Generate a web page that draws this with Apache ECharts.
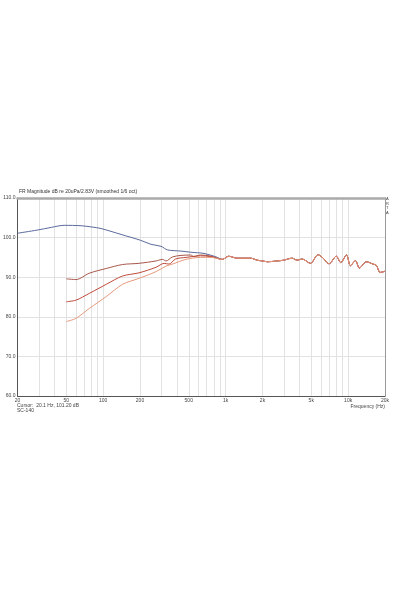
<!DOCTYPE html>
<html>
<head>
<meta charset="utf-8">
<script src="https://cdn.jsdelivr.net/npm/echarts@6/dist/echarts.min.js"></script>
<style>html,body{margin:0;padding:0;background:#fff;}#c{width:401px;height:601px;}</style>
</head>
<body>
<div id="c"></div>
<script>
// ---- data ----
const xLabelValues = [20, 50, 100, 200, 500, 1000, 2000, 5000, 10000, 20000];
const xGridValues = [20,30,40,50,60,70,80,90,100,200,300,400,500,600,700,800,900,1000,2000,3000,4000,5000,6000,7000,8000,9000,10000,20000];
const yTicks = [60, 70, 80, 90, 100, 110];

// shared high-frequency part (all curves overlap above ~1 kHz)
const hfFreq = [940, 1060, 1130, 1240, 1600, 1810, 2000, 2200, 2630, 2980, 3490, 3830, 4210, 4930, 5670, 6160, 7000, 8000, 8700, 9700, 10440, 11480, 12360, 14100, 16000, 17000, 18250, 19500, 20000];
const hfDb   = [94.5, 95.3, 95.1, 94.8, 94.8, 94.3, 94.1, 93.9, 94.1, 94.3, 94.8, 94.3, 94.6, 93.5, 95.7, 95.0, 93.4, 95.3, 93.7, 95.6, 92.9, 94.2, 92.3, 93.9, 93.3, 93.0, 91.2, 91.4, 91.5];

const blueFreq = [20, 29, 38, 48, 66, 80, 96, 140, 203, 246, 297, 335, 432, 521, 666, 842];
const blueDb   = [101.1, 101.9, 102.6, 103.1, 103.0, 102.7, 102.3, 100.8, 99.3, 98.3, 97.8, 96.9, 96.6, 96.3, 96.0, 95.1];

const red1Freq = [50, 60, 77, 106, 144, 196, 270, 306, 326, 367, 432, 520, 550, 623, 760];
const red1Db   = [89.6, 89.4, 91.0, 92.2, 93.2, 93.5, 94.1, 94.5, 94.1, 95.1, 95.5, 95.6, 95.2, 95.6, 95.3];

const red2Freq = [50, 60, 77, 106, 144, 196, 270, 315, 345, 390, 475, 623, 760];
const red2Db   = [83.8, 84.2, 85.9, 88.2, 90.3, 91.1, 92.5, 93.5, 93.3, 94.6, 95.0, 95.4, 95.2];

const red3Freq = [50, 60, 77, 106, 144, 196, 270, 326, 367, 475, 623, 760];
const red3Db   = [78.8, 79.6, 82.1, 85.1, 88.2, 89.7, 91.4, 92.8, 93.3, 94.5, 95.0, 95.0];

function build(f, d) {
  const out = f.map((v, i) => [v, d[i]]);
  hfFreq.forEach((v, i) => out.push([v, hfDb[i]]));
  return out;
}

const chart = echarts.init(document.getElementById('c'));
const tiny = {fontSize: 5, color: '#444', fontFamily: 'Liberation Sans'};

chart.setOption({
  animation: false,
  backgroundColor: '#fff',
  title: {
    text: 'FR Magnitude dB re 20uPa/2.83V (smoothed 1/6 oct)',
    left: 17, top: 187, padding: 2,
    textStyle: {fontSize: 5, fontWeight: 'normal', color: '#333', fontFamily: 'Liberation Sans'}
  },
  grid: {left: 16, right: 16, top: 198, bottom: 205, show: false},
  xAxis: [{
    type: 'log', logBase: 10, min: 20, max: 20000,
    axisLine: {show: true, lineStyle: {color: '#555', width: 1}},
    axisTick: {show: false, customValues: xGridValues},
    axisLabel: {
      customValues: xLabelValues, margin: 2, ...tiny,
      formatter: v => v >= 1000 ? (v / 1000) + 'k' : String(v)
    },
    splitLine: {show: true, lineStyle: {color: '#e2e2e2', width: 1}},
    minorSplitLine: {show: false}
  }, {
    type: 'log', logBase: 10, min: 20, max: 20000, position: 'top',
    axisLine: {show: true, lineStyle: {color: '#aaaaaa', width: 2.5}},
    axisTick: {show: false}, axisLabel: {show: false}, splitLine: {show: false}
  }],
  yAxis: [{
    type: 'value', min: 60, max: 110, interval: 10,
    axisLine: {show: true, lineStyle: {color: '#555', width: 1}},
    axisTick: {show: false},
    axisLabel: {margin: 2, ...tiny, formatter: v => v.toFixed(1)},
    splitLine: {show: true, lineStyle: {color: '#e2e2e2', width: 1}}
  }, {
    type: 'value', min: 60, max: 110, interval: 10, position: 'right',
    axisLine: {show: true, lineStyle: {color: '#999', width: 1}},
    axisTick: {show: false}, axisLabel: {show: false}, splitLine: {show: false}
  }],
  graphic: [
    {type: 'text', left: 17, top: 403, style: {text: 'Cursor:  20.1 Hz, 101.20 dB', fontSize: 5, fill: '#444', fontFamily: 'Liberation Sans'}},
    {type: 'text', left: 17, top: 408.5, style: {text: 'SC-140', fontSize: 5, fill: '#444', fontFamily: 'Liberation Sans'}},
    {type: 'text', right: 16, top: 404, style: {text: 'Frequency (Hz)', fontSize: 5, fill: '#444', fontFamily: 'Liberation Sans'}},
    {type: 'text', left: 386, top: 197, style: {text: 'A\nR\nT\nA', fontSize: 4, lineHeight: 4.5, fill: '#444', fontFamily: 'Liberation Sans'}}
  ],
  series: [
    {type: 'line', data: build(blueFreq, blueDb), showSymbol: false, smooth: 0.3,
     lineStyle: {color: '#5b6a9c', width: 1}},
    {type: 'line', data: build(red1Freq, red1Db), showSymbol: false, smooth: 0.3,
     lineStyle: {color: '#a8564a', width: 1}},
    {type: 'line', data: build(red2Freq, red2Db), showSymbol: false, smooth: 0.3,
     lineStyle: {color: '#bf4a3a', width: 1}},
    {type: 'line', data: build(red3Freq, red3Db), showSymbol: false, smooth: 0.3,
     lineStyle: {color: '#e79a7c', width: 1}}
  ]
});
</script>
</body>
</html>
